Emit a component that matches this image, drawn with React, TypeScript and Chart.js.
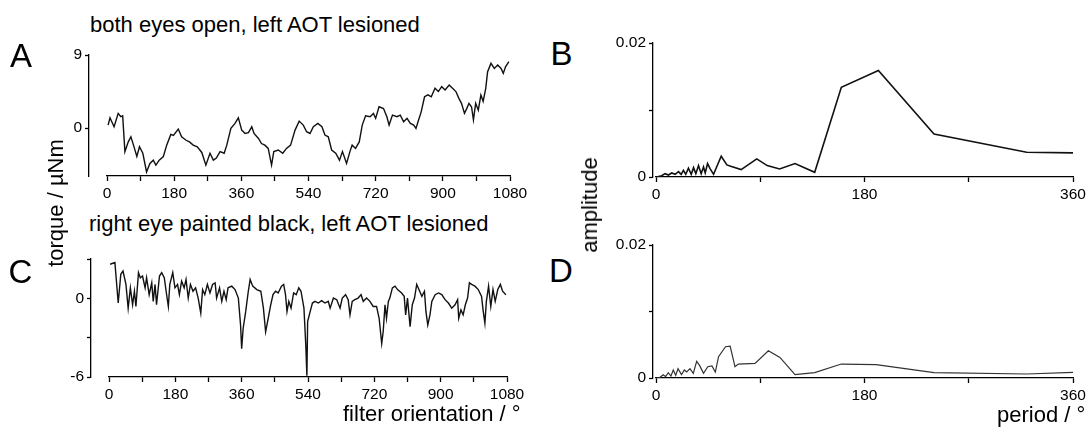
import React, { useEffect, useRef } from 'react';
import { Chart, registerables } from 'chart.js';

Chart.register(...registerables);

// Panel A: torque trace, both eyes open
const orientationA = [
  3, 8, 19, 30, 37, 42, 48, 57, 64, 71, 80, 87, 96, 106, 115, 124, 131, 140, 151, 160,
  171, 178, 191, 200, 212, 221, 231, 242, 254, 265, 276, 285, 293, 303, 314, 321, 332, 343, 352, 361,
  370, 379, 388, 394, 406, 414, 423, 432, 441, 447, 459, 471, 481, 492, 504, 515, 526, 535, 544, 553,
  565, 576, 584, 593, 602, 613, 623, 631, 642, 651, 657, 666, 676, 684, 693, 705, 714, 720, 729, 741,
  750, 756, 765, 777, 786, 795, 804, 813, 822, 828, 835, 842, 851, 860, 869, 879, 888, 897, 906, 917,
  926, 935, 943, 950, 958, 964, 970, 977, 982, 988, 995, 1002, 1008, 1015, 1020, 1029, 1038, 1047, 1056, 1062,
  1068, 1077,
];
const torqueA = [
  0.37, 1.27, 0.16, 1.81, 1.4, 1.5, -2.9, -1.7, -1.07, -2.1, -3.5, -2.3, -3.1, -5.4, -4.35, -3.95, -4.56, -3.95, -3.5, -2.1,
  -0.78, -0.9, -0.12, -1.07, -1.5, -1.7, -2.1, -2.3, -3.0, -4.56, -3.1, -3.95, -3.7, -2.9, -3.1, -2.1, -0.04, 0.57, 1.27, -0.25,
  -0.66, -0.55, 0.16, -0.66, -1.28, -1.9, -2.1, -2.5, -4.56, -2.9, -2.7, -3.1, -2.5, -2.1, -0.25, 0.86, 0.37, -0.45, -0.66, 0.16,
  0.57, 0.16, -0.86, -1.07, -2.7, -3.1, -3.95, -2.9, -4.35, -2.9, -2.1, -2.5, -1.7, 0.37, 1.52, 1.4, 1.81, 1.2, 2.63, 2.4,
  1.4, 0.37, 1.6, 1.4, 1.6, 0.78, 1.2, 0.57, 0.37, -0.04, 1.0, 2.0, 3.86, 4.1, 3.86, 4.9, 4.5, 5.1, 4.7, 5.3,
  4.9, 4.5, 3.66, 3.05, 1.81, 2.4, 3.05, 2.6, 1.0, 3.05, 2.2, 4.07, 3.3, 4.9, 6.94, 7.97, 7.35, 7.76, 7.35, 6.74,
  7.55, 8.18,
];

// Panel C: torque trace, right eye painted black
const orientationC = [
  3, 16, 25, 32, 38, 46, 52, 58, 64, 69, 73, 80, 85, 91, 98, 102, 109, 116, 120, 125,
  129, 137, 143, 150, 155, 161, 165, 173, 179, 186, 191, 197, 204, 209, 215, 221, 228, 235, 242, 249,
  254, 260, 267, 274, 281, 288, 292, 300, 306, 312, 318, 323, 333, 342, 351, 357, 360, 364, 371, 378,
  383, 390, 401, 412, 419, 425, 432, 438, 445, 452, 459, 468, 474, 479, 483, 488, 494, 501, 508, 515,
  521, 529, 534, 537, 539, 546, 552, 559, 568, 577, 586, 595, 600, 609, 618, 627, 633, 642, 649, 654,
  660, 667, 676, 684, 690, 699, 708, 717, 726, 733, 740, 744, 749, 753, 758, 762, 769, 776, 783, 794,
  801, 805, 810, 817, 823, 829, 835, 841, 849, 856, 860, 865, 871, 876, 885, 894, 903, 912, 921, 930,
  939, 946, 949, 955, 961, 967, 973, 978, 984, 993, 1002, 1011, 1015, 1020, 1024, 1030, 1036, 1042, 1048, 1055,
  1062, 1068, 1077,
];
const torqueC = [
  2.6, 2.73, -0.36, 1.83, 2.08, 1.06, -0.75, 0.8, -0.49, 0.54, -0.62, 1.96, 1.57, 1.7, 0.8, 1.57, 0.28, 1.18, -0.23, 1.06,
  -0.49, 1.7, 1.96, 1.57, 0.54, -0.62, 1.06, 1.96, 0.8, 1.06, 0.28, 1.31, 0.8, 1.44, 0.02, 1.06, 0.54, 0.8, 0.02, -1.13,
  0.67, 0.28, 1.06, 0.41, 1.06, 1.18, 0.02, 0.8, -0.23, 0.54, -0.1, 0.8, 0.93, 0.67, 0.02, -2.03, -3.84, -2.3, -1.0, 0.54,
  1.44, 0.93, 0.67, 0.54, -0.75, -2.55, -1.52, -0.62, 0.28, 0.54, 0.41, 0.93, 1.06, 0.28, -1.0, -0.23, -0.75, 0.41, 0.28, 0.8,
  0.54, -0.75, -3.58, -5.9, -1.78, -1.0, -0.36, -0.23, -0.36, -0.18, -0.36, -0.23, -0.75, 0.02, -0.1, -0.75, 0.02, 0.28, -0.1, -1.26,
  -0.23, -0.1, 0.02, 0.28, -0.23, 0.02, -0.23, -0.62, -0.62, -1.52, -3.45, -2.55, -0.49, -1.52, -0.23, 0.02, 0.8, 0.93, 0.67, 0.41,
  0.15, -1.26, 0.02, -2.16, -0.49, 0.02, 1.06, 0.67, 0.15, 0.54, -1.0, -2.03, -1.26, -0.23, 0.28, 0.41, 0.28, -0.1, -0.36, -0.75,
  -0.49, -0.1, -1.52, -0.88, -1.26, -0.49, 0.02, 1.18, 1.06, 0.93, 0.67, 0.15, -0.88, -1.9, -0.23, 0.93, -0.62, 0.67, -0.23, 0.67,
  1.06, 0.54, 0.28,
];

// Panel B: amplitude spectrum of trace A
const periodB = [
  0.4, 4.9, 7.8, 10.7, 13.6, 16.5, 19.4, 21.7, 23.7, 25.7, 28, 30.4, 32.4, 34.4, 36.7, 39, 41, 42.5, 44.5, 46.8,
  49.7, 52.6, 56.3, 61.2, 64.5, 73.5, 87, 96, 106.7, 120, 137, 160, 192, 240, 320, 360,
];
const amplitudeB = [
  0, 0.0002, 0.0005, 0.0003, 0.0006, 0.0004, 0.0008, 0.0004, 0.001, 0.0004, 0.0013, 0.0004, 0.0014, 0.0005, 0.0017, 0.0005, 0.0015, 0.0006, 0.002, 0.0012,
  0.0004, 0.0016, 0.0031, 0.0018, 0.0016, 0.0011, 0.0027, 0.0017, 0.0012, 0.002, 0.0007, 0.0134, 0.0159, 0.0064, 0.0037, 0.0036,
];

// Panel D: amplitude spectrum of trace C
const periodD = [
  0.5, 3.4, 6.3, 8.3, 10.6, 12.9, 14.9, 17, 19, 22, 24.5, 26.5, 29.3, 32.2, 35.1, 37.6, 41, 44.7, 48.3, 51.2,
  54, 60, 64, 68.2, 71, 85.5, 97, 107, 120, 137, 160, 190, 240, 320, 360,
];
const amplitudeD = [
  0, 0.0001, 0.0005, 0.0002, 0.0008, 0.0003, 0.0012, 0.0004, 0.0014, 0.0005, 0.0012, 0.0009, 0.0014, 0.0007, 0.0025, 0.0019, 0.0007, 0.0017, 0.0018, 0.0009,
  0.0032, 0.0047, 0.0048, 0.0017, 0.0021, 0.0022, 0.0041, 0.0031, 0.0005, 0.0008, 0.0021, 0.002, 0.0008, 0.0006, 0.00085,
];

// Tick positions and the subset that carries a label
const orientationTicks = [0, 90, 180, 270, 360, 450, 540, 630, 720, 810, 900, 990, 1080];
const orientationLabels = [0, 180, 360, 540, 720, 900, 1080];
const periodTicks = [0, 90, 180, 270, 360];
const periodLabels = [0, 180, 360];
const torqueTicksA = [0, 9];
const torqueLabelsA = [0, 9];
const torqueTicksC = [-6, -3, 0, 3];
const torqueLabelsC = [-6, 0];
const amplitudeTicks = [0, 0.01, 0.02];
const amplitudeLabels = [0, 0.02];

const FONT = '"Liberation Sans", Arial, Helvetica, sans-serif';

type Panel = {
  xs: number[];
  ys: number[];
  xRange: [number, number];
  xTicks: number[];
  xLabels: number[];
  yRange: [number, number];
  yTicks: number[];
  yLabels: number[];
  yAxisWidth: number;
  axisGap: number;
  lineWidth: number;
  color: string;
  padding: { top: number; right: number; bottom: number; left: number };
};

function setTicks(values: number[]) {
  return (scale: any) => {
    scale.ticks = values.map((v) => ({ value: v }));
  };
}

function labelOnly(labels: number[]) {
  return (value: any) => (labels.includes(Number(value)) ? String(value) : '');
}

function buildConfig(p: Panel): any {
  const tickFont = { family: FONT, size: 15.5 };
  const axisLine = { display: true, color: '#000', width: 1.3 };
  return {
    type: 'line',
    data: {
      datasets: [
        {
          data: p.xs.map((x, i) => ({ x, y: p.ys[i] })),
          borderColor: p.color,
          borderWidth: p.lineWidth,
          pointRadius: 0,
          tension: 0,
          fill: false,
          xAxisID: 'x',
          yAxisID: 'y',
        },
      ],
    },
    options: {
      responsive: false,
      maintainAspectRatio: false,
      animation: false,
      devicePixelRatio: 1,
      events: [],
      layout: { padding: p.padding },
      plugins: {
        legend: { display: false },
        tooltip: { enabled: false },
        title: { display: false },
      },
      scales: {
        x: {
          type: 'linear',
          position: 'bottom',
          min: p.xRange[0],
          max: p.xRange[1],
          afterBuildTicks: setTicks(p.xTicks),
          afterFit: (s: any) => {
            s.height = 30;
            s.paddingLeft = 0;
            s.paddingRight = 0;
          },
          grid: {
            display: true,
            drawOnChartArea: false,
            drawTicks: true,
            tickLength: 5,
            tickWidth: 1.3,
            tickColor: '#000',
          },
          border: axisLine,
          ticks: {
            autoSkip: false,
            maxRotation: 0,
            minRotation: 0,
            padding: 3,
            color: '#000',
            font: tickFont,
            callback: labelOnly(p.xLabels),
          },
        },
        y: {
          type: 'linear',
          position: 'left',
          weight: 1,
          min: p.yRange[0],
          max: p.yRange[1],
          afterBuildTicks: setTicks(p.yTicks),
          afterFit: (s: any) => {
            s.width = p.yAxisWidth;
            s.paddingTop = 0;
            s.paddingBottom = 0;
          },
          grid: {
            display: true,
            drawOnChartArea: false,
            drawTicks: true,
            tickLength: 4,
            tickWidth: 1.3,
            tickColor: '#000',
          },
          border: axisLine,
          ticks: {
            autoSkip: false,
            padding: 3,
            color: '#000',
            font: tickFont,
            callback: labelOnly(p.yLabels),
          },
        },
        // empty strip that sets the y axis slightly apart from the plot
        gap: {
          type: 'linear',
          position: 'left',
          weight: 0,
          display: true,
          ticks: { display: false },
          grid: { display: false },
          border: { display: false },
          afterFit: (s: any) => {
            s.width = p.axisGap;
          },
        },
      },
    },
  };
}

const panelA: Panel = {
  xs: orientationA,
  ys: torqueA,
  xRange: [0, 1080],
  xTicks: orientationTicks,
  xLabels: orientationLabels,
  yRange: [-5.9, 9],
  yTicks: torqueTicksA,
  yLabels: torqueLabelsA,
  yAxisWidth: 89,
  axisGap: 18,
  lineWidth: 1.4,
  color: '#111',
  padding: { top: 10, right: 30, bottom: 2, left: 0 },
};

const panelC: Panel = {
  xs: orientationC,
  ys: torqueC,
  xRange: [0, 1080],
  xTicks: orientationTicks,
  xLabels: orientationLabels,
  yRange: [-6, 3],
  yTicks: torqueTicksC,
  yLabels: torqueLabelsC,
  yAxisWidth: 91,
  axisGap: 18,
  lineWidth: 1.4,
  color: '#111',
  padding: { top: 10, right: 30, bottom: 2, left: 0 },
};

const panelB: Panel = {
  xs: periodB,
  ys: amplitudeB,
  xRange: [0, 360],
  xTicks: periodTicks,
  xLabels: periodLabels,
  yRange: [0, 0.02],
  yTicks: amplitudeTicks,
  yLabels: amplitudeLabels,
  yAxisWidth: 53,
  axisGap: 3,
  lineWidth: 1.6,
  color: '#111',
  padding: { top: 10, right: 16, bottom: 2, left: 0 },
};

const panelD: Panel = {
  xs: periodD,
  ys: amplitudeD,
  xRange: [0, 360],
  xTicks: periodTicks,
  xLabels: periodLabels,
  yRange: [0, 0.02],
  yTicks: amplitudeTicks,
  yLabels: amplitudeLabels,
  yAxisWidth: 53,
  axisGap: 3,
  lineWidth: 1.2,
  color: '#333',
  padding: { top: 10, right: 16, bottom: 2, left: 0 },
};

const textBase: React.CSSProperties = {
  position: 'absolute',
  whiteSpace: 'nowrap',
  fontFamily: FONT,
  color: '#000',
};

function Label(props: { x: number; y: number; size: number; children: React.ReactNode }) {
  return (
    <div style={{ ...textBase, left: props.x, top: props.y, fontSize: props.size, lineHeight: `${props.size}px` }}>
      {props.children}
    </div>
  );
}

function VerticalLabel(props: { cx: number; cy: number; size: number; children: React.ReactNode }) {
  return (
    <div
      style={{
        ...textBase,
        left: props.cx,
        top: props.cy,
        fontSize: props.size,
        lineHeight: `${props.size}px`,
        transform: 'translate(-50%, -50%) rotate(-90deg)',
      }}
    >
      {props.children}
    </div>
  );
}

export default function App() {
  const refA = useRef<HTMLCanvasElement>(null);
  const refB = useRef<HTMLCanvasElement>(null);
  const refC = useRef<HTMLCanvasElement>(null);
  const refD = useRef<HTMLCanvasElement>(null);

  useEffect(() => {
    const pairs: [React.RefObject<HTMLCanvasElement | null>, Panel][] = [
      [refA, panelA],
      [refB, panelB],
      [refC, panelC],
      [refD, panelD],
    ];
    const charts = pairs
      .filter(([r]) => r.current)
      .map(([r, p]) => new Chart(r.current as HTMLCanvasElement, buildConfig(p)));
    return () => charts.forEach((c) => c.destroy());
  }, []);

  const canvasStyle = (left: number, top: number): React.CSSProperties => ({
    position: 'absolute',
    left,
    top,
  });

  return (
    <div
      style={{
        position: 'absolute',
        left: 0,
        top: 0,
        width: 1089,
        height: 428,
        background: '#fff',
        overflow: 'hidden',
      }}
    >
      <canvas ref={refA} width={540} height={163} style={canvasStyle(0, 45)} />
      <canvas ref={refC} width={537} height={160} style={canvasStyle(0, 249)} />
      <canvas ref={refB} width={489} height={176} style={canvasStyle(600, 33)} />
      <canvas ref={refD} width={489} height={175} style={canvasStyle(600, 235)} />

      <Label x={90} y={14} size={22}>both eyes open, left AOT lesioned</Label>
      <Label x={89} y={213} size={22}>right eye painted black, left AOT lesioned</Label>

      <Label x={10} y={39} size={33}>A</Label>
      <Label x={550.6} y={37} size={33}>B</Label>
      <Label x={8.4} y={254.7} size={33}>C</Label>
      <Label x={549} y={253.8} size={33}>D</Label>

      <Label x={343} y={403} size={22}>filter orientation / °</Label>
      <Label x={997} y={404} size={22}>period / °</Label>

      <VerticalLabel cx={55.7} cy={203} size={22}>torque / µNm</VerticalLabel>
      <VerticalLabel cx={590.4} cy={204.5} size={22}>amplitude</VerticalLabel>
    </div>
  );
}
